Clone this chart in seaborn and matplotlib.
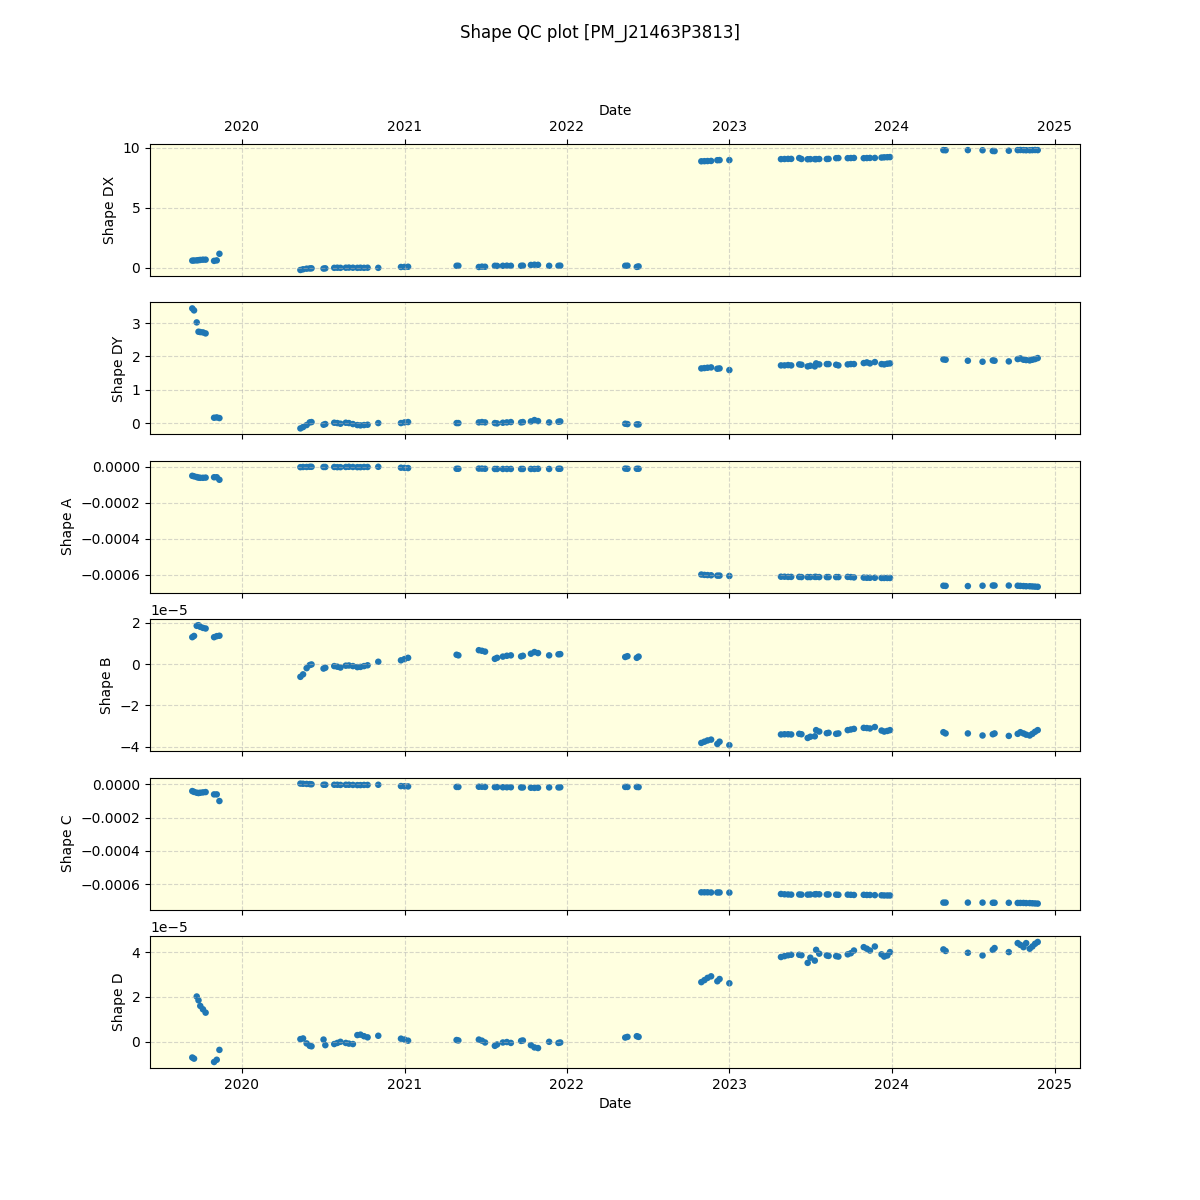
import pandas as pd
import matplotlib
matplotlib.use("Agg")
import matplotlib.pyplot as plt
import seaborn as sns

dates = [
    "2019-09-12", "2019-09-16", "2019-09-22", "2019-09-26", "2019-09-30", "2019-10-06", "2019-10-12",
    "2019-10-31", "2019-11-06", "2019-11-12",
    "2020-05-12", "2020-05-18", "2020-05-26", "2020-06-02", "2020-06-06",
    "2020-07-03", "2020-07-07",
    "2020-07-27", "2020-08-03", "2020-08-10",
    "2020-08-22", "2020-08-29", "2020-09-07",
    "2020-09-17", "2020-09-24", "2020-10-02", "2020-10-10",
    "2020-11-03",
    "2020-12-24", "2021-01-01", "2021-01-09",
    "2021-04-28", "2021-05-02",
    "2021-06-17", "2021-06-24", "2021-07-01",
    "2021-07-23", "2021-07-28",
    "2021-08-10", "2021-08-19", "2021-08-28",
    "2021-09-20", "2021-09-24",
    "2021-10-12", "2021-10-20", "2021-10-28",
    "2021-11-22",
    "2021-12-13", "2021-12-17",
    "2022-05-12", "2022-05-17",
    "2022-06-07", "2022-06-11",
    "2022-10-30", "2022-11-06", "2022-11-13", "2022-11-21",
    "2022-12-05", "2022-12-10",
    "2023-01-01",
    "2023-04-27", "2023-05-05", "2023-05-13", "2023-05-20",
    "2023-06-07", "2023-06-12",
    "2023-06-26", "2023-07-02",
    "2023-07-12", "2023-07-15", "2023-07-22",
    "2023-08-08", "2023-08-12",
    "2023-08-29", "2023-09-03",
    "2023-09-24", "2023-10-01", "2023-10-08",
    "2023-10-30", "2023-11-06", "2023-11-13",
    "2023-11-24",
    "2023-12-09", "2023-12-15", "2023-12-22", "2023-12-28",
    "2024-04-26", "2024-05-01",
    "2024-06-20",
    "2024-07-23",
    "2024-08-15", "2024-08-19",
    "2024-09-20",
    "2024-10-10", "2024-10-16", "2024-10-23", "2024-10-29",
    "2024-11-06", "2024-11-12", "2024-11-18", "2024-11-24",
]

shape_dx = [
    0.60, 0.61, 0.62, 0.64, 0.66, 0.68, 0.68,
    0.58, 0.62, 1.17,
    -0.18, -0.12, -0.07, -0.05, -0.04,
    -0.06, -0.04,
    0.00, 0.01, 0.00,
    0.01, 0.02, 0.01,
    0.00, 0.01, 0.00, 0.01,
    0.00,
    0.07, 0.08, 0.09,
    0.17, 0.17,
    0.07, 0.10, 0.09,
    0.17, 0.16,
    0.17, 0.18, 0.17,
    0.17, 0.18,
    0.24, 0.26, 0.25,
    0.17,
    0.17, 0.18,
    0.17, 0.18,
    0.08, 0.12,
    8.87, 8.88, 8.89, 8.90,
    8.96, 8.97,
    8.97,
    9.05, 9.06, 9.07, 9.07,
    9.14, 9.06,
    9.04, 9.05,
    9.05, 9.05, 9.06,
    9.06, 9.07,
    9.13, 9.14,
    9.13, 9.14, 9.15,
    9.13, 9.14, 9.15,
    9.15,
    9.18, 9.20, 9.21, 9.22,
    9.80, 9.79,
    9.80,
    9.79,
    9.73, 9.72,
    9.75,
    9.80, 9.81, 9.80, 9.79,
    9.79, 9.80, 9.81, 9.80,
]

shape_dy = [
    3.44, 3.38, 3.02, 2.74, 2.73, 2.72, 2.69,
    0.16, 0.17, 0.15,
    -0.16, -0.12, -0.06, 0.02, 0.03,
    -0.05, -0.03,
    0.01, 0.00, -0.02,
    0.01, 0.00, -0.03,
    -0.06, -0.07, -0.06, -0.05,
    0.00,
    0.00, 0.02, 0.03,
    0.00, 0.00,
    0.02, 0.03, 0.02,
    0.00, -0.01,
    0.01, 0.02, 0.03,
    0.02, 0.03,
    0.05, 0.09, 0.06,
    0.02,
    0.04, 0.05,
    -0.02, -0.03,
    -0.04, -0.04,
    1.64, 1.65, 1.66, 1.67,
    1.63, 1.64,
    1.59,
    1.73, 1.73, 1.74, 1.73,
    1.76, 1.75,
    1.70, 1.72,
    1.70, 1.79, 1.76,
    1.77, 1.77,
    1.75, 1.73,
    1.76, 1.77, 1.77,
    1.80, 1.82, 1.79,
    1.83,
    1.77, 1.76, 1.78, 1.79,
    1.91, 1.90,
    1.87,
    1.84,
    1.88, 1.87,
    1.85,
    1.92, 1.94, 1.90, 1.89,
    1.88, 1.90, 1.92, 1.95,
]

shape_a = [
    -50e-6, -53e-6, -57e-6, -60e-6, -61e-6, -61e-6, -60e-6,
    -58e-6, -58e-6, -72e-6,
    -2e-6, -1e-6, -1e-6, 0.0, 0.0,
    -1e-6, -1e-6,
    -1e-6, -2e-6, -2e-6,
    -1e-6, 0.0, -1e-6,
    -2e-6, -2e-6, -1e-6, -1e-6,
    0.0,
    -5e-6, -6e-6, -7e-6,
    -11e-6, -11e-6,
    -10e-6, -10e-6, -11e-6,
    -12e-6, -12e-6,
    -12e-6, -12e-6, -12e-6,
    -12e-6, -12e-6,
    -12e-6, -12e-6, -11e-6,
    -12e-6,
    -11e-6, -11e-6,
    -10e-6, -11e-6,
    -11e-6, -11e-6,
    -598e-6, -600e-6, -601e-6, -602e-6,
    -604e-6, -604e-6,
    -606e-6,
    -610e-6, -610e-6, -611e-6, -611e-6,
    -611e-6, -612e-6,
    -612e-6, -612e-6,
    -611e-6, -611e-6, -612e-6,
    -612e-6, -612e-6,
    -612e-6, -612e-6,
    -611e-6, -612e-6, -614e-6,
    -615e-6, -616e-6, -616e-6,
    -616e-6,
    -617e-6, -617e-6, -617e-6, -617e-6,
    -660e-6, -661e-6,
    -662e-6,
    -660e-6,
    -659e-6, -659e-6,
    -659e-6,
    -660e-6, -661e-6, -662e-6, -663e-6,
    -663e-6, -664e-6, -665e-6, -666e-6,
]

shape_b = [
    1.30e-5, 1.36e-5, 1.85e-5, 1.88e-5, 1.80e-5, 1.75e-5, 1.72e-5,
    1.30e-5, 1.35e-5, 1.37e-5,
    -0.62e-5, -0.50e-5, -0.20e-5, -0.05e-5, -0.02e-5,
    -0.22e-5, -0.18e-5,
    -0.10e-5, -0.13e-5, -0.17e-5,
    -0.08e-5, -0.07e-5, -0.10e-5,
    -0.15e-5, -0.14e-5, -0.10e-5, -0.06e-5,
    0.11e-5,
    0.18e-5, 0.24e-5, 0.30e-5,
    0.45e-5, 0.42e-5,
    0.67e-5, 0.64e-5, 0.60e-5,
    0.25e-5, 0.30e-5,
    0.36e-5, 0.40e-5, 0.42e-5,
    0.37e-5, 0.40e-5,
    0.50e-5, 0.58e-5, 0.53e-5,
    0.42e-5,
    0.47e-5, 0.48e-5,
    0.34e-5, 0.38e-5,
    0.30e-5, 0.36e-5,
    -3.82e-5, -3.76e-5, -3.70e-5, -3.66e-5,
    -3.87e-5, -3.76e-5,
    -3.93e-5,
    -3.41e-5, -3.40e-5, -3.40e-5, -3.41e-5,
    -3.38e-5, -3.40e-5,
    -3.58e-5, -3.52e-5,
    -3.50e-5, -3.20e-5, -3.27e-5,
    -3.35e-5, -3.33e-5,
    -3.38e-5, -3.36e-5,
    -3.20e-5, -3.17e-5, -3.14e-5,
    -3.09e-5, -3.10e-5, -3.12e-5,
    -3.05e-5,
    -3.22e-5, -3.27e-5, -3.24e-5, -3.20e-5,
    -3.30e-5, -3.36e-5,
    -3.36e-5,
    -3.46e-5,
    -3.40e-5, -3.36e-5,
    -3.48e-5,
    -3.38e-5, -3.30e-5, -3.36e-5, -3.42e-5,
    -3.46e-5, -3.38e-5, -3.28e-5, -3.20e-5,
]

shape_c = [
    -40e-6, -45e-6, -50e-6, -52e-6, -50e-6, -48e-6, -46e-6,
    -60e-6, -60e-6, -100e-6,
    5e-6, 4e-6, 3e-6, 2e-6, 1e-6,
    -2e-6, -2e-6,
    -2e-6, -2e-6, -3e-6,
    -2e-6, -2e-6, -3e-6,
    -4e-6, -4e-6, -3e-6, -3e-6,
    -2e-6,
    -10e-6, -11e-6, -12e-6,
    -15e-6, -15e-6,
    -14e-6, -14e-6, -15e-6,
    -16e-6, -16e-6,
    -17e-6, -17e-6, -17e-6,
    -18e-6, -18e-6,
    -20e-6, -21e-6, -20e-6,
    -18e-6,
    -18e-6, -17e-6,
    -15e-6, -15e-6,
    -15e-6, -16e-6,
    -650e-6, -650e-6, -650e-6, -651e-6,
    -651e-6, -651e-6,
    -652e-6,
    -660e-6, -662e-6, -663e-6, -664e-6,
    -663e-6, -664e-6,
    -664e-6, -663e-6,
    -662e-6, -661e-6, -662e-6,
    -663e-6, -663e-6,
    -664e-6, -665e-6,
    -664e-6, -665e-6, -666e-6,
    -665e-6, -666e-6, -666e-6,
    -667e-6,
    -668e-6, -669e-6, -669e-6, -669e-6,
    -712e-6, -712e-6,
    -712e-6,
    -712e-6,
    -713e-6, -713e-6,
    -713e-6,
    -714e-6, -714e-6, -714e-6, -715e-6,
    -715e-6, -716e-6, -717e-6, -718e-6,
]

shape_d = [
    -0.70e-5, -0.75e-5, 2.02e-5, 1.85e-5, 1.60e-5, 1.45e-5, 1.30e-5,
    -0.90e-5, -0.80e-5, -0.36e-5,
    0.12e-5, 0.15e-5, -0.07e-5, -0.18e-5, -0.20e-5,
    0.10e-5, -0.15e-5,
    -0.10e-5, -0.05e-5, 0.00,
    -0.05e-5, -0.08e-5, -0.10e-5,
    0.30e-5, 0.32e-5, 0.25e-5, 0.20e-5,
    0.27e-5,
    0.14e-5, 0.10e-5, 0.05e-5,
    0.08e-5, 0.06e-5,
    0.10e-5, 0.05e-5, -0.03e-5,
    -0.18e-5, -0.12e-5,
    -0.03e-5, -0.01e-5, -0.05e-5,
    0.04e-5, 0.06e-5,
    -0.15e-5, -0.25e-5, -0.28e-5,
    0.00,
    -0.05e-5, -0.03e-5,
    0.19e-5, 0.22e-5,
    0.25e-5, 0.22e-5,
    2.66e-5, 2.75e-5, 2.85e-5, 2.92e-5,
    2.70e-5, 2.80e-5,
    2.61e-5,
    3.78e-5, 3.82e-5, 3.86e-5, 3.88e-5,
    3.88e-5, 3.86e-5,
    3.52e-5, 3.75e-5,
    3.62e-5, 4.10e-5, 3.93e-5,
    3.85e-5, 3.83e-5,
    3.82e-5, 3.80e-5,
    3.90e-5, 3.95e-5, 4.07e-5,
    4.22e-5, 4.15e-5, 4.07e-5,
    4.25e-5,
    3.90e-5, 3.80e-5, 3.85e-5, 4.00e-5,
    4.12e-5, 4.05e-5,
    3.97e-5,
    3.85e-5,
    4.10e-5, 4.18e-5,
    4.00e-5,
    4.40e-5, 4.32e-5, 4.22e-5, 4.40e-5,
    4.15e-5, 4.25e-5, 4.37e-5, 4.45e-5,
]

df = pd.DataFrame({
    "Date": pd.to_datetime(dates),
    "Shape DX": shape_dx,
    "Shape DY": shape_dy,
    "Shape A": shape_a,
    "Shape B": shape_b,
    "Shape C": shape_c,
    "Shape D": shape_d,
})

columns = ["Shape DX", "Shape DY", "Shape A", "Shape B", "Shape C", "Shape D"]

fig, axes = plt.subplots(len(columns), 1, figsize=(12, 12), dpi=100, sharex=True)

for ax, col in zip(axes, columns):
    sns.scatterplot(data=df, x="Date", y=col, ax=ax, s=22, color="#1f77b4",
                    linewidth=0, edgecolor="none")
    ax.set_facecolor("lightyellow")
    ax.grid(True, linestyle="--", color="#b0b0b0", alpha=0.5)
    ax.set_ylabel(col)
    ax.set_xlabel("")

# top panel carries the date axis on top
top = axes[0]
top.xaxis.tick_top()
top.xaxis.set_label_position("top")
top.tick_params(axis="x", labeltop=True)
top.set_xlabel("Date")
top.xaxis.label.set_visible(True)
axes[-1].set_xlabel("Date")

fig.suptitle("Shape QC plot [PM_J21463P3813]")
fig.savefig("out.png", dpi=100)
